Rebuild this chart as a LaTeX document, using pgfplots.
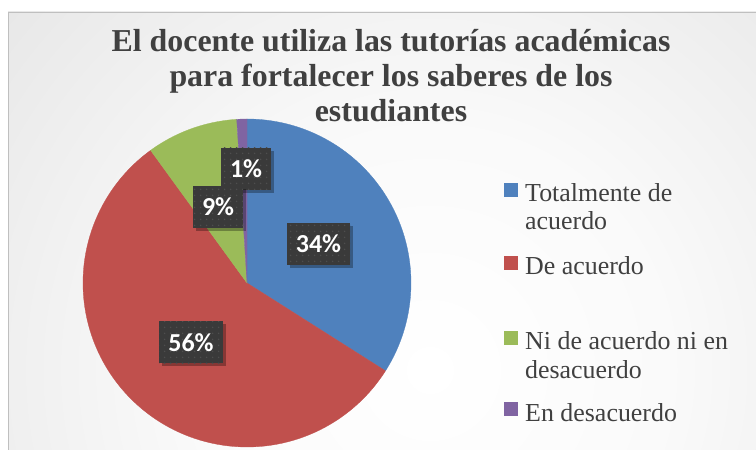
\documentclass[border=0pt]{standalone}
\usepackage{pgfplots}
\pgfplotsset{compat=1.18}
\usepackage{fontspec}
\setmainfont{Liberation Serif}
\newfontfamily\carlito{Carlito}
\usetikzlibrary{shadows,patterns.meta}

\definecolor{cblue}{HTML}{4F81BD}
\definecolor{cred}{HTML}{C0504D}
\definecolor{cgreen}{HTML}{9BBB59}
\definecolor{cpurple}{HTML}{8064A2}
\definecolor{txt}{HTML}{404040}
\definecolor{lblbg}{HTML}{3A3A3A}
\definecolor{lbldot}{HTML}{4E4E4E}

\pgfdeclareradialshading{panelshade}{\pgfpoint{0bp}{0bp}}{%
  color(0bp)=(white); color(10bp)=(white!98!black); color(23bp)=(white!91!black);
  color(32bp)=(white!85!black); color(40bp)=(white!81!black); color(50bp)=(white!80!black)}

\tikzdeclarepattern{
  name=lbldots,
  type=uncolored,
  bottom left={(0bp,0bp)},
  top right={(6bp,6bp)},
  tile size={(6bp,6bp)},
  code={\fill (3bp,3bp) circle (0.9bp);}
}

\tikzset{
  lbl/.style={fill=lblbg, text=white, font=\carlito\bfseries\fontsize{26}{30}\selectfont,
    minimum height=42bp, inner xsep=9bp, inner ysep=0bp,
    drop shadow={shadow xshift=3bp, shadow yshift=-3bp, opacity=0.3, fill=black},
    postaction={pattern={lbldots}, pattern color=lbldot}},
  legtxt/.style={anchor=base west, text=txt, font=\fontsize{26}{30}\selectfont, inner sep=0pt},
  ttl/.style={anchor=base, text=txt, font=\bfseries\fontsize{32}{35}\selectfont, inner sep=0pt}
}

\begin{document}
\begin{tikzpicture}[x=1bp,y=1bp]
\useasboundingbox (0,0) rectangle (756,-450);
\fill[white] (0,0) rectangle (756,-450);
\begin{scope}
  \clip (8,-12) rectangle (756,-450);
  \shade[shading=panelshade] (-170,-970) rectangle (1030,230);
\end{scope}
\draw[white!75!black, line width=0.8bp] (8.4,-450) -- (8.4,-12.4) -- (756,-12.4);
\foreach \k in {1,...,10} {\fill[white, opacity=0.07] (247,-283) circle ({164+2.5*\k});}

\begin{axis}[at={(0,0)}, anchor=north west, width=756bp, height=450bp, scale only axis,
  xmin=0, xmax=756, ymin=-450, ymax=0, hide axis, clip=false]
% slices: percentages 34 / 56 / 9 / 1, clockwise from 12 o'clock
\addplot[fill=cblue, draw=cblue, line width=0.3pt, domain={90-3.6*34}:90, samples=120]
  ({247+164*cos(x)},{-283+164*sin(x)}) -- (247,-283) -- cycle;
\addplot[fill=cred, draw=cred, line width=0.3pt, domain={90-3.6*(34+56)}:{90-3.6*34}, samples=160]
  ({247+164*cos(x)},{-283+164*sin(x)}) -- (247,-283) -- cycle;
\addplot[fill=cgreen, draw=cgreen, line width=0.3pt, domain={90-3.6*(34+56+9)}:{90-3.6*(34+56)}, samples=40]
  ({247+164*cos(x)},{-283+164*sin(x)}) -- (247,-283) -- cycle;
\addplot[fill=cpurple, draw=cpurple, line width=0.3pt, domain={90-3.6*(34+56+9+1)}:{90-3.6*(34+56+9)}, samples=10]
  ({247+164*cos(x)},{-283+164*sin(x)}) -- (247,-283) -- cycle;

% data labels
\node[lbl] at (318.5,-244) {34\%};
\node[lbl] at (191,-342.5) {56\%};
\node[lbl] at (246,-169) {1\%};
\node[lbl] at (218,-207) {9\%};

% title
\node[ttl] at (391,-52) {El docente utiliza las tutorías académicas};
\node[ttl] at (391,-87) {para fortalecer los saberes de los};
\node[ttl] at (391,-122) {estudiantes};

% legend
\fill[cblue]   (504,-183) rectangle (517.5,-197);
\fill[cred]    (504,-256) rectangle (517.5,-270);
\fill[cgreen]  (504,-331) rectangle (517.5,-345);
\fill[cpurple] (504,-402) rectangle (517.5,-416);
\node[legtxt] at (525,-202) {Totalmente de};
\node[legtxt] at (525,-230) {acuerdo};
\node[legtxt] at (525,-275) {De acuerdo};
\node[legtxt] at (525,-350) {Ni de acuerdo ni en};
\node[legtxt] at (525,-378) {desacuerdo};
\node[legtxt] at (525,-421) {En desacuerdo};
\end{axis}
\end{tikzpicture}
\end{document}
